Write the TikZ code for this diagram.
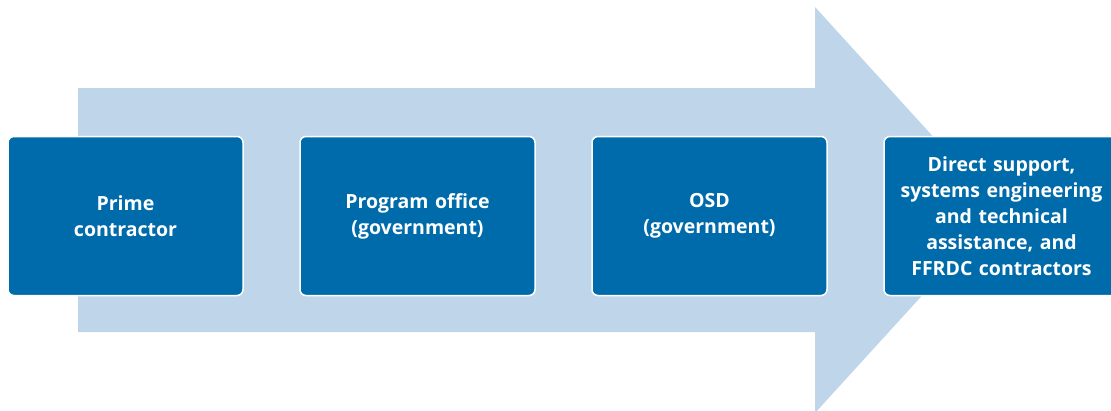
\documentclass[tikz,border=0pt]{standalone}
\usepackage{fontspec}
\setmainfont{Open Sans}
\usetikzlibrary{positioning}
\definecolor{arrowblue}{HTML}{BFD6EA}
\definecolor{boxblue}{HTML}{006BAA}
\tikzset{
  stagebox/.style={draw=white, line width=1.5pt, fill=boxblue, rounded corners=6pt,
    minimum width=235pt, minimum height=159pt, text width=228pt, align=center,
    text=white, font=\fontsize{19.5}{26}\selectfont\bfseries}
}
\begin{document}
\begin{tikzpicture}[x=1pt,y=-1pt]
    \useasboundingbox (0,0) rectangle (1111,410);
    % big arrow behind the boxes
    \fill[arrowblue] (78,88) -- (815,88) -- (815,7) -- (1000,210) -- (815,413)
      -- (815,332) -- (78,332) -- cycle;
    \node[stagebox] (prime) at (125.5,216) {Prime\\contractor};
    \node[stagebox, right=55.5pt of prime] (office) {Program office\\(government)};
    \node[stagebox, right=55.5pt of office] (osd) {OSD\\(government)};
    \node[stagebox, right=55.5pt of osd] (support) {Direct support,\\systems engineering\\and technical\\assistance, and\\FFRDC contractors};
  \end{tikzpicture}
\end{document}
